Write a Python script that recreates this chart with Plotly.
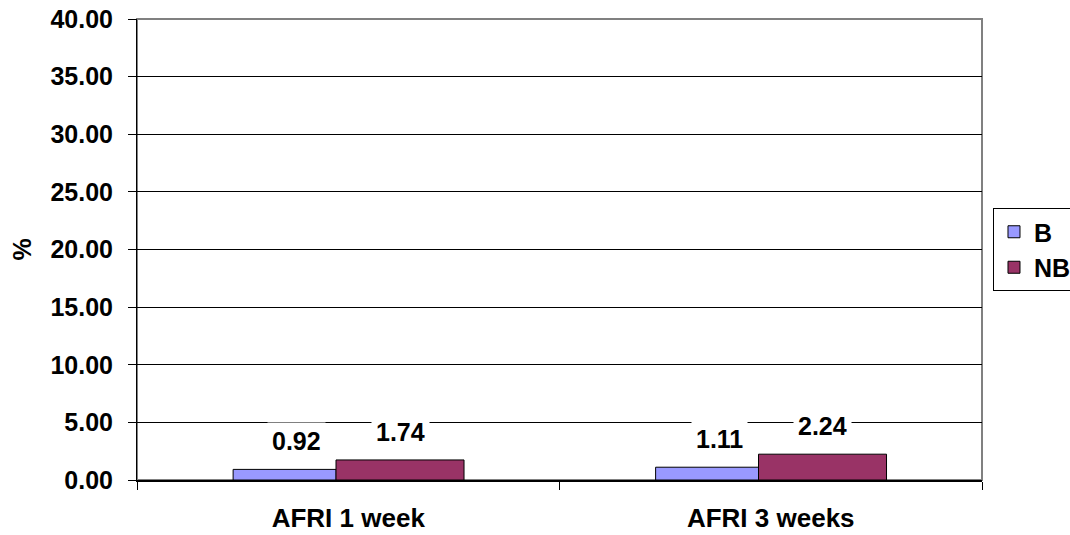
import plotly.graph_objects as go

categories = ["AFRI 1 week", "AFRI 3 weeks"]
series_names = ["B", "NB"]
b_values = [0.92, 1.11]
nb_values = [1.74, 2.24]
y_ticks = [0, 5, 10, 15, 20, 25, 30, 35, 40]
y_title = "%"

FONT = dict(family="Liberation Sans, Arial, sans-serif", size=25, color="black", weight="bold")
XFONT = dict(FONT, size=26)

fig = go.Figure()
fig.add_trace(go.Bar(name=series_names[0], x=categories, y=b_values,
                     marker=dict(color="#9999FF", line=dict(color="black", width=1)),
                     width=0.2438, offset=-0.2725))
fig.add_trace(go.Bar(name=series_names[1], x=categories, y=nb_values,
                     marker=dict(color="#993366", line=dict(color="black", width=1)),
                     width=0.303, offset=-0.029))

# data labels
for vals, xs, xoff in [(b_values, -0.2725 + 0.2438 / 2, 12), (nb_values, -0.029 + 0.303 / 2, 0)]:
    for i, v in enumerate(vals):
        fig.add_annotation(x=i + xs, y=v, xref="x", yref="y", text=f"{v:.2f}", showarrow=False,
                           yanchor="middle", yshift=28, xshift=xoff, bgcolor="white", borderpad=4,
                           font=FONT)

# y-axis title
fig.add_annotation(xref="paper", yref="paper", x=0, y=0.5, xshift=-116, text=y_title, textangle=-90,
                   showarrow=False, xanchor="center", yanchor="middle", font=FONT)

# plot border (grey top/right)
fig.add_shape(type="rect", xref="paper", yref="paper", x0=0, x1=1, y0=0, y1=1,
              line=dict(color="#808080", width=2), layer="below")

fig.update_layout(
    width=1070, height=535,
    margin=dict(l=137, r=88, t=19, b=55, autoexpand=False),
    paper_bgcolor="white", plot_bgcolor="white",
    barmode="overlay",
    font=FONT,
    showlegend=True,
    legend=dict(x=1.013, y=0.5, xanchor="left", yanchor="middle", bordercolor="black",
                borderwidth=1, font=FONT, bgcolor="white", tracegroupgap=0, itemwidth=30),
    xaxis=dict(type="category", range=[-0.5, 1.5], showgrid=False, showline=True, linecolor="black", linewidth=2,
               ticks="outside", tickson="boundaries", ticklen=8, tickcolor="black", tickwidth=1,
               ticklabelstandoff=14, tickfont=XFONT, automargin=False, ticklabeloverflow="allow"),
    yaxis=dict(range=[0, 40], tickvals=y_ticks, tickformat=".2f", showgrid=True, gridcolor="black", gridwidth=1,
               showline=True, linecolor="black", linewidth=1, ticks="outside", ticklen=8, tickcolor="black",
               ticklabelstandoff=10, tickfont=FONT, zeroline=False, automargin=False,
               ticklabeloverflow="allow"),
)

fig.write_html("out.html", config={"displayModeBar": False},
               post_script="document.body.style.margin='0';document.body.style.padding='0';")
